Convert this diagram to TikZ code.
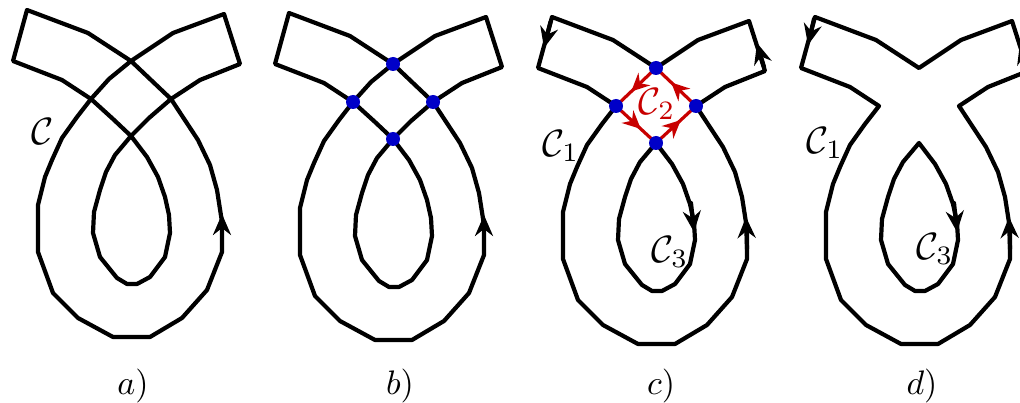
\documentclass[tikz,border=0pt]{standalone}
\usetikzlibrary{arrows.meta,decorations.markings}
\definecolor{dotblue}{RGB}{0,0,200}
\definecolor{cred}{RGB}{200,0,0}
\tikzset{
  curve/.style={line width=4.2pt, line join=round, line cap=round, black},
  redline/.style={line width=3.2pt, cred, line cap=round},
  arrowon/.style={curve, -{Stealth[length=21pt,width=18pt,inset=7pt]}},
  dot/.style={circle, fill=dotblue, minimum size=14pt, inner sep=0pt},
  lbl/.style={scale=3.8, inner sep=0pt},
  plbl/.style={scale=3.4, inner sep=0pt},
  redarrow/.style={postaction={decorate}, decoration={markings,
     mark=at position 0.62 with {\arrow{Stealth[length=18pt,width=17pt,inset=6pt]}}}}
}
\newcommand\defpts[1]{%
  \coordinate (#1T) at (131,61);
  \coordinate (#1L) at (91,99);
  \coordinate (#1R) at (171,99);
  \coordinate (#1B) at (131,136);
}
\newcommand\innerloop{(147,157) -- (158,177) -- (165,197) -- (169,215) -- (170,233) -- (165,257) -- (150,277) -- (137,284) -- (127,284) -- (117,278) -- (100,257) -- (93,233) -- (94,212) -- (100,190) -- (106,172) -- (115,155)}
\newcommand\outerloop{(77,117) -- (62,138) -- (52,160) -- (45,177) -- (38,205) -- (38,252) -- (53,293) -- (78,318) -- (113,337) -- (150,337) -- (182,318) -- (207,290) -- (222,252) -- (222,222) -- (217,190) -- (210,165) -- (198,140)}
\newcommand\crossedcurve[1]{%
  \draw[curve] (#1R) -- (#1T) -- (88,33) -- (27,10) -- (13,61) -- (62,80) -- (#1L)
     -- (113,119) -- (#1B) -- \innerloop -- (#1B) -- (149,118) -- (#1R)
     -- (200,80) -- (240,64) -- (224,14) -- (173,33) -- (#1T) -- (109,79) -- (#1L)
     -- \outerloop -- cycle;
}
\newcommand\splitcurves[1]{%
  \draw[curve] (#1T) -- (88,33) -- (27,10) -- (13,61) -- (62,80) -- (#1L)
     -- \outerloop -- (#1R) -- (200,80) -- (240,64) -- (224,14) -- (173,33) -- cycle;
  \draw[curve] (#1B) -- \innerloop -- cycle;
}
\begin{document}
\begin{tikzpicture}[x=1pt,y=-1pt]
\useasboundingbox (0,0) rectangle (1020,403);
\clip (0,0) rectangle (1020,403);
% ---------- a) ----------
\begin{scope}
  \defpts{a}
  \crossedcurve{a}
  \draw[arrowon] (222,242) -- (222,214);
  \node[lbl] (aC) at (43,132) {$\mathcal{C}$};
\end{scope}
\node[plbl] (la) at (133,386) {$a)$};
% ---------- b) ----------
\begin{scope}[shift={(262,3)}]
  \defpts{b}
  \crossedcurve{b}
  \draw[arrowon] (222,242) -- (222,212);
  \foreach \p in {T,L,R,B} \node[dot] (bd\p) at (b\p) {};
\end{scope}
\node[plbl] (lb) at (400,386) {$b)$};
% ---------- c) ----------
\begin{scope}[shift={(525,7)}]
  \defpts{c}
  \splitcurves{c}
  \draw[arrowon] (25.5,15) -- (19,41);
  \draw[arrowon] (239,60) -- (232,36);
  \draw[arrowon] (166,196) -- (169,225);
  \draw[arrowon] (222,242) -- (221,210);
  \draw[redline,redarrow] (cT) -- (cL);
  \draw[redline,redarrow] (cL) -- (cB);
  \draw[redline,redarrow] (cB) -- (cR);
  \draw[redline,redarrow] (cR) -- (cT);
  \foreach \p in {T,L,R,B} \node[dot] (cd\p) at (c\p) {};
  \node[lbl] (cC1) at (36,139) {$\mathcal{C}_1$};
  \node[lbl,text=cred] (cC2) at (132,97) {$\mathcal{C}_2$};
  \node[lbl] (cC3) at (145,245) {$\mathcal{C}_3$};
\end{scope}
\node[plbl] (lc) at (661,386) {$c)$};
% ---------- d) ----------
\begin{scope}[shift={(788,7)}]
  \defpts{d}
  \splitcurves{d}
  \draw[arrowon] (26,12) -- (20,38);
  \draw[arrowon] (239,60) -- (232,36);
  \draw[arrowon] (166,196) -- (169,225);
  \draw[arrowon] (222,242) -- (221,210);
  \node[lbl] (dC1) at (37,136) {$\mathcal{C}_1$};
  \node[lbl] (dC3) at (147,242) {$\mathcal{C}_3$};
\end{scope}
\node[plbl] (ld) at (922,386) {$d)$};
\end{tikzpicture}
\end{document}
